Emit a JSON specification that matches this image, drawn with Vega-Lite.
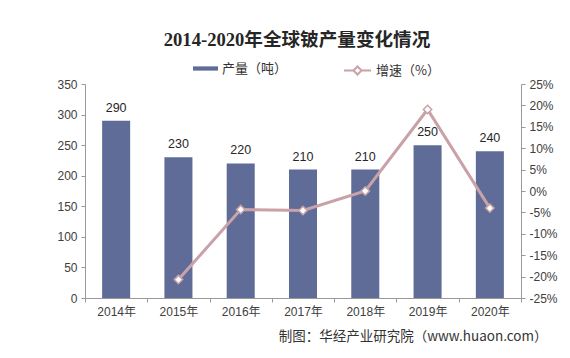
{
  "$schema": "https://vega.github.io/schema/vega-lite/v6.json",
  "width": 436,
  "height": 214,
  "autosize": {"type": "none"},
  "padding": {"left": 85, "top": 84, "right": 49, "bottom": 60},
  "background": "white",
  "title": {
    "text": "2014-2020年全球铍产量变化情况",
    "font": "Liberation Serif, Noto Sans CJK SC",
    "fontSize": 18.6,
    "fontWeight": "bold",
    "color": "#262626",
    "anchor": "middle",
    "frame": "group",
    "offset": 6,
    "dx": -6
  },
  "data": {
    "values": [
      {"year": "2014年", "prod": 290, "growth": null},
      {"year": "2015年", "prod": 230, "growth": -20.7},
      {"year": "2016年", "prod": 220, "growth": -4.35},
      {"year": "2017年", "prod": 210, "growth": -4.55},
      {"year": "2018年", "prod": 210, "growth": 0},
      {"year": "2019年", "prod": 250, "growth": 19.05},
      {"year": "2020年", "prod": 240, "growth": -4}
    ]
  },
  "encoding": {
    "x": {
      "field": "year",
      "type": "nominal",
      "sort": null,
      "scale": {"paddingInner": 0, "paddingOuter": 0},
      "axis": {
        "title": "制图：华经产业研究院（www.huaon.com）",
        "titleFont": "Noto Sans CJK SC",
        "titleFontSize": 13.5,
        "titleFontWeight": "normal",
        "titleColor": "#333333",
        "titleAnchor": "end",
        "titleAlign": "right",
        "titleX": 462,
        "titleY": 42,
        "titleBaseline": "alphabetic",
        "labelAngle": 0,
        "labelFont": "Liberation Sans, Noto Sans CJK SC",
        "labelFontSize": 12,
        "labelColor": "#404040",
        "labelPadding": 4,
        "tickBand": "extent",
        "tickSize": 4,
        "tickColor": "#999999",
        "domainColor": "#999999",
        "grid": false
      }
    }
  },
  "layer": [
    {
      "encoding": {
        "y": {
          "field": "prod",
          "type": "quantitative",
          "scale": {"domain": [0, 350]},
          "axis": {
            "title": null,
            "values": [0, 50, 100, 150, 200, 250, 300, 350],
            "grid": false,
            "labelFont": "Liberation Sans",
            "labelFontSize": 12,
            "labelColor": "#404040",
            "labelPadding": 4,
            "tickSize": 4,
            "tickColor": "#999999",
            "domainColor": "#999999"
          }
        }
      },
      "layer": [
        {
          "mark": {"type": "bar", "width": {"band": 0.45}},
          "encoding": {
            "fill": {
              "datum": "产量（吨）",
              "type": "nominal",
              "scale": {"range": ["#5F6C98"]},
              "legend": {
                "orient": "none",
                "legendX": 108,
                "legendY": -28,
                "title": null,
                "symbolType": "M-1,-0.17H1V0.17H-1Z",
                "symbolSize": 625,
                "symbolStrokeWidth": 0,
                "labelFont": "Noto Sans CJK SC",
                "labelFontSize": 13,
                "labelColor": "#333333"
              }
            }
          }
        },
        {
          "mark": {
            "type": "text",
            "baseline": "bottom",
            "dy": -6,
            "font": "Liberation Sans",
            "fontSize": 12.5,
            "color": "#262626"
          },
          "encoding": {"text": {"field": "prod", "type": "quantitative"}}
        }
      ]
    },
    {
      "encoding": {
        "y": {
          "field": "growth",
          "type": "quantitative",
          "scale": {"domain": [-25, 25]},
          "axis": {
            "orient": "right",
            "title": null,
            "values": [-25, -20, -15, -10, -5, 0, 5, 10, 15, 20, 25],
            "labelExpr": "datum.value + '%'",
            "grid": false,
            "labelFont": "Liberation Sans",
            "labelFontSize": 12,
            "labelColor": "#404040",
            "labelPadding": 4,
            "tickSize": 4,
            "tickColor": "#999999",
            "domainColor": "#999999"
          }
        }
      },
      "layer": [
        {
          "mark": {"type": "line", "strokeWidth": 3},
          "encoding": {
            "stroke": {
              "datum": "增速（%）",
              "type": "nominal",
              "scale": {"range": ["#C9A2A7"]},
              "legend": {
                "orient": "none",
                "legendX": 258,
                "legendY": -28,
                "title": null,
                "symbolType": "M-1,0H-0.3M0.3,0H1M-0.3,0L0,-0.3L0.3,0L0,0.3Z",
                "symbolSize": 729,
                "symbolStrokeWidth": 2,
                "labelFont": "Noto Sans CJK SC",
                "labelFontSize": 13,
                "labelColor": "#333333",
                "encode": {"symbols": {"update": {"fill": {"value": "white"}}}}
              }
            }
          }
        },
        {
          "mark": {
            "type": "point",
            "shape": "diamond",
            "filled": true,
            "fill": "white",
            "stroke": "#C9A2A7",
            "strokeWidth": 1.5,
            "size": 70,
            "opacity": 1
          }
        }
      ]
    }
  ],
  "resolve": {"scale": {"y": "independent"}},
  "config": {
    "view": {"stroke": null}
  }
}
